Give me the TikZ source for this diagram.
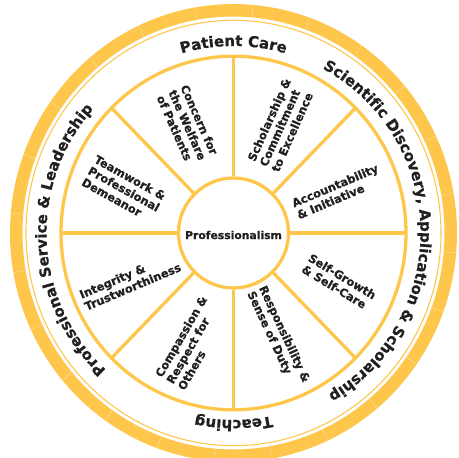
\documentclass[tikz,border=0pt]{standalone}
\usepackage{fontspec}
\setmainfont{DejaVu Sans}[BoldFeatures={FakeBold=0.8}]
\usetikzlibrary{decorations.text}
\definecolor{gold}{RGB}{254,199,76}
\definecolor{ink}{RGB}{35,31,32}
\newcommand\ringfnt{\bfseries\fontsize{15}{18}\selectfont}
\begin{document}
\begin{tikzpicture}[x=1pt,y=1pt,
  spokeline/.style={draw=gold, line width=3.3pt},
  lbl/.style={text=ink, font=\bfseries\fontsize{11.4}{13}\selectfont, align=left, inner sep=0pt},
  ringtxt/.style={decorate, decoration={text along path, text align=center, text color=ink}}]
\useasboundingbox (-233.5,-225) rectangle (225.5,233);
\begin{scope}[yscale=1.025]
  \draw[gold, line width=12.5pt] (0,0) circle[radius=217.25];
  \foreach \a in {10,25,...,355} \draw[gold!55!white, line width=0.4pt] (\a:210.5) -- (\a:224);
  \draw[gold, line width=1.1pt] (0,0) circle[radius=207.5];
  \draw[gold, line width=3.3pt] (0,0) circle[radius=172.5];
  \node[circle, draw=gold, line width=3.3pt, minimum size=110pt, inner sep=0pt] (core) at (0,0) {};
  \foreach \a in {0,45,...,315} \draw[spokeline] (core.\a) -- (\a:172.5);
\end{scope}
\node[text=ink, font=\bfseries\fontsize{10.8}{13}\selectfont, inner sep=0pt] (prof) at (0,-2) {Professionalism};
% sector labels
\node[lbl, rotate=-66] (concern) at (-46,108) {Concern for\\the Welfare\\of Patients};
\node[lbl, rotate=66] (schol) at (47.5,108) {Scholarship \&\\Commitment\\to Excellence};
\node[lbl, rotate=23] (account) at (104,41.5) {Accountability\\\& Initiative};
\node[lbl, rotate=-31] (selfg) at (105.5,-49) {Self-Growth\\\& Self-Care};
\node[lbl, rotate=-65] (resp) at (44.5,-104) {Responsibility \&\\Sense of Duty};
\node[lbl, rotate=60] (compass) at (-41.2,-110) {Compassion \&\\Respect for\\Others};
\node[lbl, rotate=23] (integ) at (-103.3,-47.7) {Integrity \&\\Trustworthiness};
\node[lbl, rotate=-29] (team) at (-109.5,44) {Teamwork \&\\Professional\\Demeanor};
% ring texts
\path[ringtxt, decoration={text={|\ringfnt|Patient Care}}] (120:187) arc[start angle=120, end angle=60, radius=187];
\path[ringtxt, decoration={text={|\ringfnt|Scientific Discovery, Application {\&} Scholarship}}] (75:187) arc[start angle=75, end angle=-73, radius=187];
\path[ringtxt, decoration={text={|\ringfnt|Professional Service {\&} Leadership}}] (240:187) arc[start angle=240, end angle=125.5, radius=187];
\path[ringtxt, decoration={text={|\ringfnt|Teaching}}] (300:187) arc[start angle=300, end angle=240, radius=187];
\end{tikzpicture}
\end{document}
